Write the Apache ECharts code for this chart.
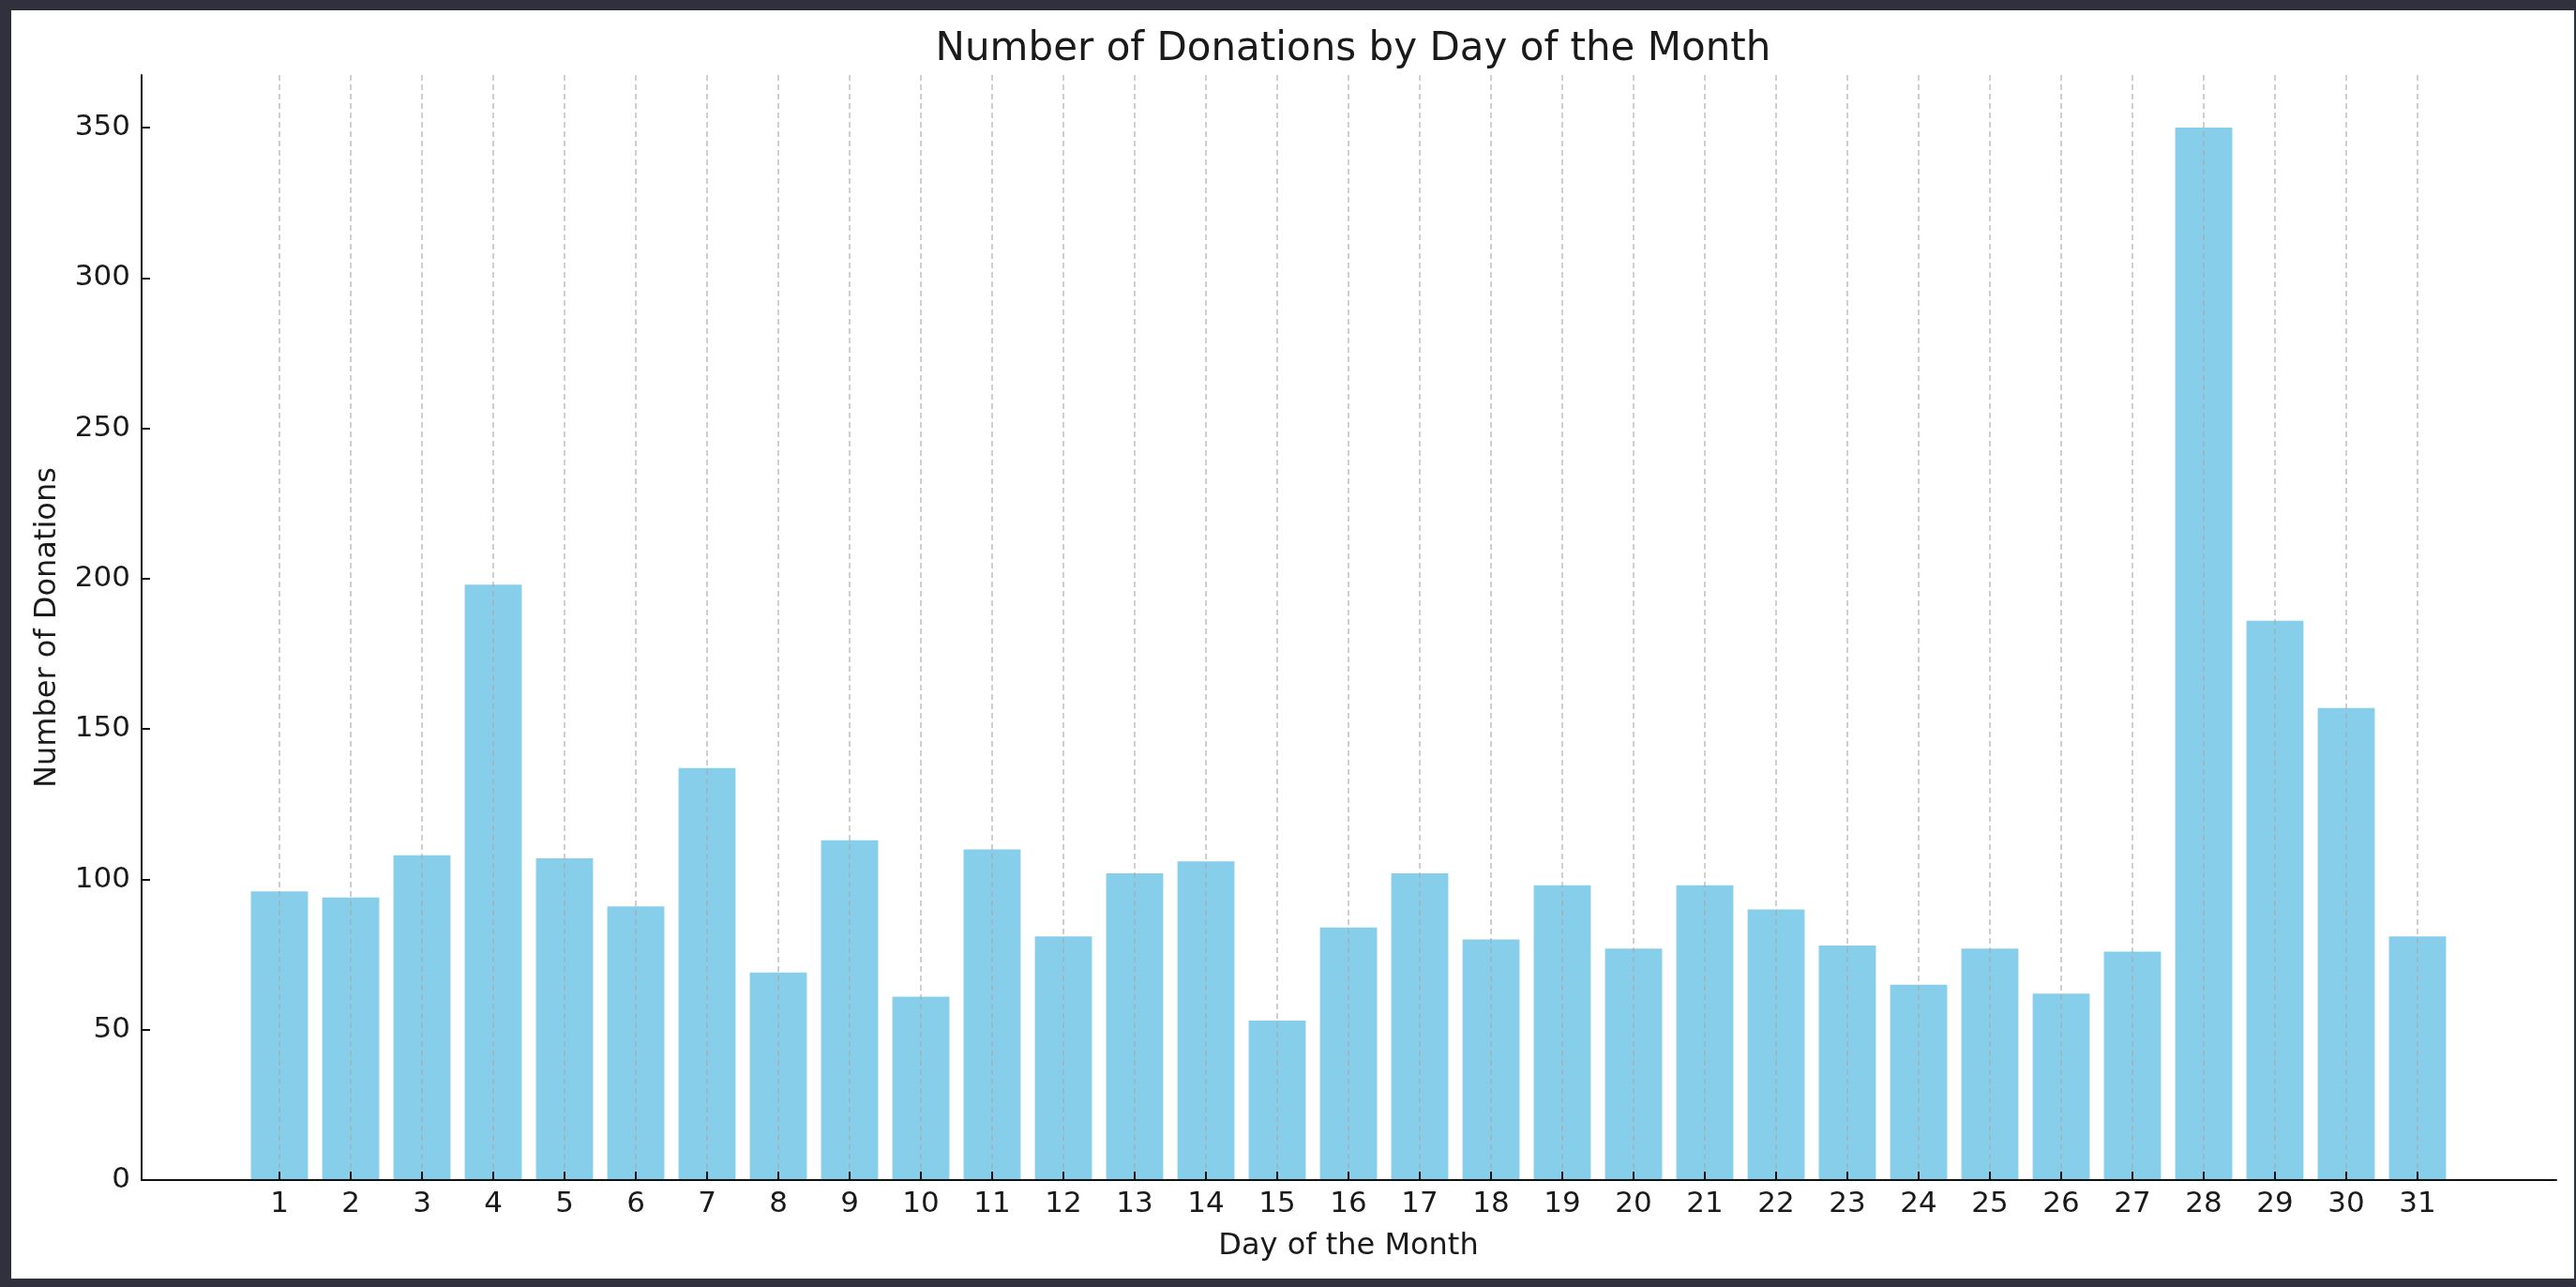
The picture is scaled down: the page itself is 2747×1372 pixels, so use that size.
<!DOCTYPE html>
<html>
<head>
<meta charset="utf-8">
<script src="https://cdn.jsdelivr.net/npm/echarts@6.0.0/dist/echarts.min.js"></script>
<style>
  html, body {
    margin: 0;
    padding: 0;
    width: 2747px;
    height: 1372px;
    background: #31313d;
    overflow: hidden;
  }
  .BOX {
    position: absolute;
    left: 12px;
    top: 11px;
    width: 2733px;
    height: 1352px;
    background: #ffffff;
  }
</style>
</head>
<body>
<div id="main" class="BOX"></div>
<script>
// days of the month (x categories)
const days = ["1", "2", "3", "4", "5", "6", "7", "8", "9", "10", "11", "12", "13", "14", "15", "16",
  "17", "18", "19", "20", "21", "22", "23", "24", "25", "26", "27", "28", "29", "30", "31"];
// number of donations per day
const donations = [96, 94, 108, 198, 107, 91, 137, 69, 113, 61, 110, 81, 102, 106, 53, 84,
  102, 80, 98, 77, 98, 90, 78, 65, 77, 62, 76, 350, 186, 157, 81];
// y tick labels
const yTicks = [0, 50, 100, 150, 200, 250, 300, 350];
const yMax = 367.5;

const FONT = "DejaVu Sans";
const TEXT = "#1a1a1a";

let chartDom = document.getElementById("main");
let myChart = echarts.init(chartDom);
let option;

option = {
  animation: false,
  title: {
    text: "Number of Donations by Day of the Month",
    left: 1426,
    top: 16,
    textAlign: "center",
    textStyle: {
      fontFamily: FONT,
      fontSize: 42,
      fontWeight: "normal",
      color: TEXT,
    },
  },
  grid: [
    // full axes box (spines + y ticks)
    { left: 139, top: 69, width: 2575, height: 1178 },
    // inner box: day 1 .. day 31
    { left: 286, top: 69, width: 2280, height: 1178 },
  ],
  xAxis: [
    {
      gridIndex: 0,
      type: "value",
      min: 0,
      max: 1,
      z: 3,
      axisLine: { show: true, lineStyle: { color: "#111", width: 2 } },
      axisTick: { show: false },
      axisLabel: { show: false },
      splitLine: { show: false },
    },
    {
      gridIndex: 1,
      type: "category",
      data: days,
      boundaryGap: false,
      z: 3,
      name: "Day of the Month",
      nameLocation: "middle",
      nameGap: 55,
      nameTextStyle: { fontFamily: FONT, fontSize: 32, color: TEXT },
      axisLine: { show: false },
      axisTick: {
        show: true,
        inside: true,
        length: 9,
        lineStyle: { color: "#111", width: 2 },
      },
      axisLabel: {
        fontFamily: FONT,
        fontSize: 31,
        color: TEXT,
        margin: 10,
        interval: 0,
      },
      splitLine: {
        show: true,
        lineStyle: { color: "rgba(170,170,170,0.75)", width: 1.5, type: [6, 4] },
      },
    },
  ],
  yAxis: [
    {
      gridIndex: 0,
      type: "value",
      min: 0,
      max: yMax,
      interval: 50,
      z: 3,
      name: "Number of Donations",
      nameLocation: "middle",
      nameRotate: 90,
      nameGap: 84,
      nameTextStyle: { fontFamily: FONT, fontSize: 32, color: TEXT },
      axisLine: { show: true, lineStyle: { color: "#111", width: 2 } },
      axisTick: {
        show: true,
        inside: true,
        length: 9,
        customValues: yTicks,
        lineStyle: { color: "#111", width: 2 },
      },
      axisLabel: {
        fontFamily: FONT,
        fontSize: 31,
        color: TEXT,
        margin: 12,
        customValues: yTicks,
      },
      splitLine: { show: false },
    },
    {
      gridIndex: 1,
      type: "value",
      min: 0,
      max: yMax,
      show: false,
    },
  ],
  series: [
    {
      name: "Donations",
      type: "bar",
      xAxisIndex: 1,
      yAxisIndex: 1,
      data: donations,
      barWidth: "80%",
      clip: false,
      itemStyle: { color: "#87ceeb" },
    },
  ],
};

option && myChart.setOption(option);
</script>
</body>
</html>
